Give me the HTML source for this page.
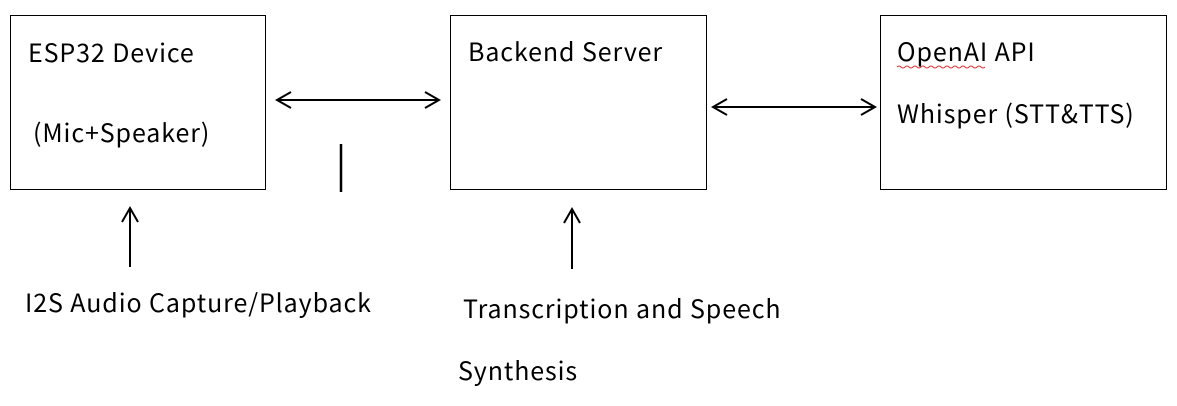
<!DOCTYPE html>
<html><head><meta charset="utf-8"><style>
body{margin:0;width:1177px;height:406px;background:#fff;position:relative;overflow:hidden;font-family:"Noto Sans CJK SC","Liberation Sans",sans-serif;color:#000}
.b{position:absolute;border:1.5px solid #000;box-sizing:border-box}
.t{position:absolute;font-size:25px;letter-spacing:0.9px;line-height:1;white-space:nowrap}
</style></head><body>
<div class="b" style="left:10px;top:15px;width:256px;height:175px"></div>
<div class="b" style="left:450px;top:15px;width:257px;height:175px"></div>
<div class="b" style="left:880px;top:15px;width:287px;height:175px"></div>
<svg style="position:absolute;left:0;top:0" width="1177" height="406">
<g stroke="#000" stroke-width="2" fill="none">
<line x1="277" y1="100" x2="439" y2="100"/>
<polyline points="291,92 277,100 291,108"/><polyline points="425,92 439,100 425,108"/>
<line x1="713" y1="107" x2="875" y2="107"/>
<polyline points="727,99 713,107 727,115"/><polyline points="861,99 875,107 861,115"/>
<line x1="130" y1="208" x2="130" y2="267"/><polyline points="122,222 130,208 138,222"/>
<line x1="572" y1="209" x2="572" y2="269"/><polyline points="564,223 572,209 580,223"/>
<line x1="341" y1="144" x2="341" y2="192" stroke-width="2.5"/>
</g>
<path d="M897 67 q2 -2 4 0 t4 0 t4 0 t4 0 t4 0 t4 0 t4 0 t4 0 t4 0 t4 0 t4 0 t4 0 t4 0 t4 0 t4 0 t4 0 t4 0 t4 0 t4 0 t4 0 t4 0 t4 0" stroke="#d33" stroke-width="1" fill="none"/>
</svg>
<div class="t" style="left:28px;top:40px">ESP32 Device</div>
<div class="t" style="left:33px;top:120px">(Mic+Speaker)</div>
<div class="t" style="left:468px;top:39px">Backend Server</div>
<div class="t" style="left:897px;top:39px">OpenAI API</div>
<div class="t" style="left:897px;top:101px">Whisper (STT&amp;TTS)</div>
<div class="t" style="left:25px;top:290px">I2S Audio Capture/Playback</div>
<div class="t" style="left:463px;top:296px">Transcription and Speech</div>
<div class="t" style="left:458px;top:358px">Synthesis</div>
</body></html>
